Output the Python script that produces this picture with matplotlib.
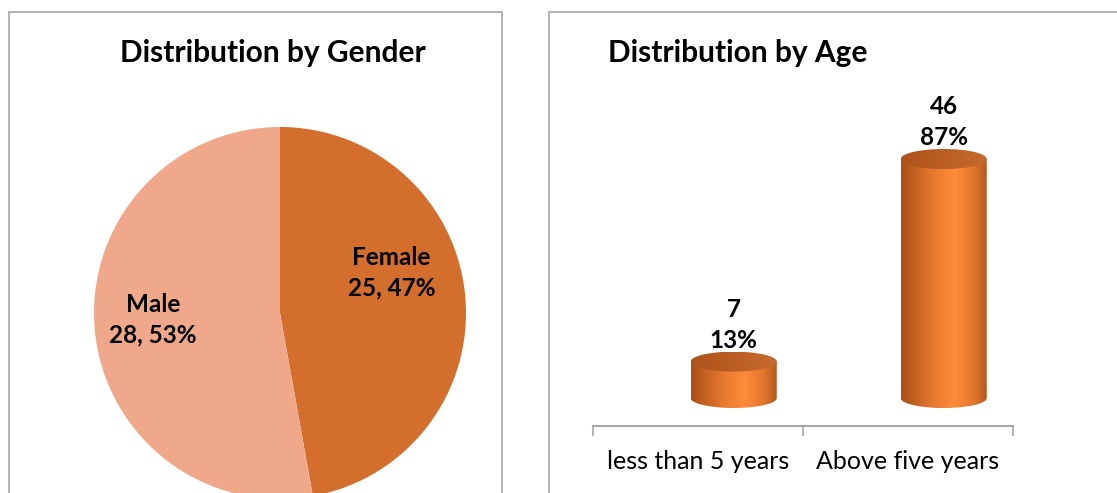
import numpy as np
import matplotlib
matplotlib.use("Agg")
import matplotlib.pyplot as plt
from matplotlib.patches import Ellipse, Rectangle, PathPatch
from matplotlib.path import Path
from matplotlib.colors import LinearSegmentedColormap

plt.rcParams['font.family'] = ['Lato', 'DejaVu Sans']

gender_labels = ['Female', 'Male']
gender_counts = [25, 28]
gender_colors = ['#d36e2c', '#f0a88a']

age_labels = ['less than 5 years', 'Above five years']
age_counts = [7, 46]

W, H = 1117, 493
fig = plt.figure(figsize=(W / 100, H / 100), dpi=100)

# grey frames round the two panels (they run past the bottom/right edge)
for x0, w in [(9, 493), (549, 600)]:
    fig.patches.append(Rectangle((x0 / W, -0.1), w / W, (H - 12) / H + 0.1,
                                 transform=fig.transFigure, fill=False,
                                 ec='#a6a6a6', lw=1.2))

fig.text(273 / W, 1 - 53 / H, 'Distribution by Gender', ha='center', va='center',
         fontsize=21.5, fontweight='bold')
fig.text(608 / W, 1 - 53 / H, 'Distribution by Age', ha='left', va='center',
         fontsize=21.5, fontweight='bold')

# --- pie ---
total = sum(gender_counts)
ax1 = fig.add_axes([94 / W, (H - 499) / H, 372 / W, 372 / H])
ax1.pie(gender_counts, colors=gender_colors, startangle=90, counterclock=False,
        radius=1, wedgeprops=dict(lw=0))
ax1.set_xlim(-1, 1)
ax1.set_ylim(-1, 1)
label_pos = [(0.60, 0.215), (-0.683, -0.038)]
for lab, c, (lx, ly) in zip(gender_labels, gender_counts, label_pos):
    ax1.text(lx, ly, f"{lab}\n{c}, {c / total:.0%}", ha='center', va='center',
             fontsize=17.5, fontweight='bold', linespacing=1.4)

# --- cylinders ---
ax2 = fig.add_axes([593 / W, (H - 426) / H, 420 / W, 346 / H])
ppu = 239 / 46          # pixels per count
b = 10 / ppu            # half height of the ellipses
hw = 0.205
shift = 0.17

body_cmap = LinearSegmentedColormap.from_list(
    'body', [(0, '#a94f17'), (0.35, '#e5772f'), (0.62, '#ff8c3a'), (0.85, '#e0742e'), (1, '#b0561c')])
top_cmap = LinearSegmentedColormap.from_list('top', ['#ad531c', '#bb5e25', '#c76a2f'])
grad = np.linspace(0, 1, 200)[np.newaxis, :]

for i, v in enumerate(age_counts):
    xc = i + shift
    t = np.linspace(0, -np.pi, 80)
    verts = [(xc - hw, v), (xc + hw, v)] + list(zip(xc + hw * np.cos(t), b * np.sin(t))) + [(xc - hw, v)]
    path = Path(verts, [Path.MOVETO] + [Path.LINETO] * (len(verts) - 2) + [Path.CLOSEPOLY])
    body = PathPatch(path, fc='none', ec='none')
    ax2.add_patch(body)
    im = ax2.imshow(grad, cmap=body_cmap, extent=[xc - hw, xc + hw, -b, v],
                    aspect='auto', zorder=2, interpolation='bilinear')
    im.set_clip_path(body)

    top = Ellipse((xc, v), 2 * hw, 2 * b, fc='none', ec='none')
    ax2.add_patch(top)
    im2 = ax2.imshow(grad, cmap=top_cmap, extent=[xc - hw, xc + hw, v - b, v + b],
                     aspect='auto', zorder=3, interpolation='bilinear')
    im2.set_clip_path(top)

    ax2.annotate(f"{v}\n{v / total:.0%}", xy=(xc, v + b), xytext=(0, 0),
                 textcoords='offset points', ha='center', va='bottom',
                 fontsize=17.5, fontweight='bold', linespacing=1.4)

ax2.set_xlim(-0.5, 1.5)
ax2.set_ylim(-28 / ppu, (346 - 28) / ppu)
for s in ['top', 'left', 'right']:
    ax2.spines[s].set_visible(False)
ax2.spines['bottom'].set_color('#a6a6a6')
ax2.spines['bottom'].set_linewidth(1.5)
ax2.set_yticks([])
ax2.set_xticks([-0.5, 0.5, 1.5])
ax2.set_xticklabels([])
ax2.tick_params(axis='x', which='major', length=7, width=1.2, color='#a6a6a6')
ax2.set_xticks([0, 1], minor=True)
ax2.set_xticklabels(age_labels, minor=True, fontsize=18)
ax2.tick_params(axis='x', which='minor', length=0, pad=17)
ax2.patch.set_visible(False)

fig.savefig('out.png', dpi=100)
